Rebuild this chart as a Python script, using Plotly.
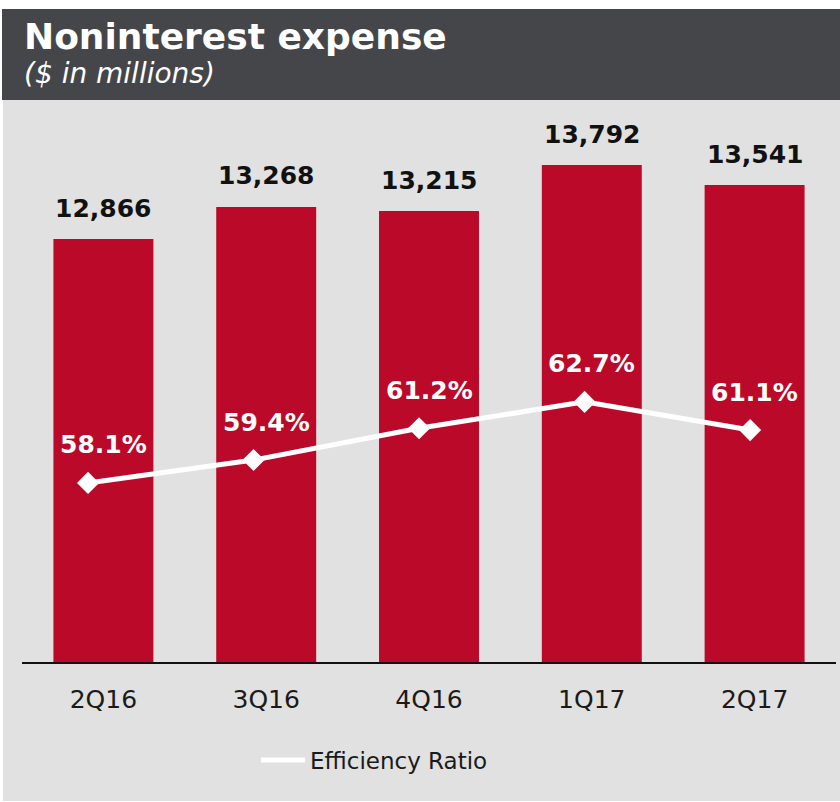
import plotly.graph_objects as go

# Quarterly noninterest expense ($ in millions) and efficiency ratio (%)
quarters = ["2Q16", "3Q16", "4Q16", "1Q17", "2Q17"]
expense = [12866, 13268, 13215, 13792, 13541]
efficiency = [58.1, 59.4, 61.2, 62.7, 61.1]

BAR_RED = "#bb0a29"
PANEL_GREY = "#e0e1e0"
HEADER_GREY = "#45464a"
FONT = "DejaVu Sans"

W, H = 840, 802
ML, MR, MT, MB = 22, 4, 110, 140
PW, PH = W - ML - MR, H - MT - MB


def px_x(p):
    return (p - ML) / PW


def px_y(p):
    return (H - MB - p) / PH


fig = go.Figure()

fig.add_trace(go.Bar(
    x=quarters, y=expense, marker=dict(color=BAR_RED, line=dict(width=0)),
    width=0.614, showlegend=False, hoverinfo="x+y",
))

# Efficiency ratio line on its own overlaid axes
fig.add_trace(go.Scatter(
    x=quarters, y=efficiency, xaxis="x2", yaxis="y2", mode="lines",
    line=dict(color="white", width=5), name="Efficiency Ratio",
))
fig.add_trace(go.Scatter(
    x=quarters, y=efficiency, xaxis="x2", yaxis="y2", mode="markers",
    marker=dict(symbol="diamond", size=17, color="white"),
    showlegend=False, hoverinfo="skip",
))

annotations = []
for q, v in zip(quarters, expense):
    annotations.append(dict(
        x=q, y=v, xref="x", yref="y", text=f"{v:,}", showarrow=False,
        yanchor="middle", yshift=31,
        font=dict(family=FONT, size=25, color="#111111", weight="bold"),
    ))
for q, v in zip(quarters, efficiency):
    annotations.append(dict(
        x=q, y=v, xref="x", yref="y2", text=f"{v:.1f}%", showarrow=False,
        yanchor="middle", yshift=38,
        font=dict(family=FONT, size=25, color="white", weight="bold"),
    ))

# Header text
annotations.append(dict(
    x=px_x(22), y=px_y(37), xref="paper", yref="paper", xanchor="left",
    yanchor="middle", text="<b>Noninterest expense</b>", showarrow=False,
    font=dict(family=FONT, size=36, color="white"),
))
annotations.append(dict(
    x=px_x(22), y=px_y(73), xref="paper", yref="paper", xanchor="left",
    yanchor="middle", text="<i>($ in millions)</i>", showarrow=False,
    font=dict(family=FONT, size=28, color="white"),
))

shapes = [
    dict(type="rect", xref="paper", yref="paper", layer="below",
         x0=px_x(3), x1=px_x(840), y0=px_y(100), y1=px_y(801),
         fillcolor=PANEL_GREY, line=dict(width=0)),
    dict(type="rect", xref="paper", yref="paper", layer="below",
         x0=px_x(2), x1=px_x(840), y0=px_y(9), y1=px_y(100),
         fillcolor=HEADER_GREY, line=dict(width=0)),
]

fig.update_layout(
    width=W, height=H,
    margin=dict(l=ML, r=MR, t=MT, b=MB),
    paper_bgcolor="white", plot_bgcolor="rgba(0,0,0,0)",
    font=dict(family=FONT),
    xaxis=dict(
        type="category", range=[-0.5, 4.5], showgrid=False, zeroline=False,
        showline=True, linecolor="#111111", linewidth=2, ticks="",
        ticklabelstandoff=14,
        tickfont=dict(family=FONT, size=25, color="#1a1a1a"),
    ),
    yaxis=dict(range=[7572, 7572 + PH / 0.0799], visible=False),
    xaxis2=dict(type="category", overlaying="x", range=[-0.399, 4.519],
                visible=False),
    yaxis2=dict(overlaying="y", range=[47.93, 47.93 + PH / 17.61],
                visible=False),
    legend=dict(
        orientation="h", x=px_x(256), y=px_y(760), xanchor="left",
        yanchor="middle", bgcolor="rgba(0,0,0,0)", itemwidth=44,
        font=dict(family=FONT, size=23, color="#1a1a1a"),
    ),
    annotations=annotations,
    shapes=shapes,
    bargap=0.386,
)

fig.write_html("out.html")
